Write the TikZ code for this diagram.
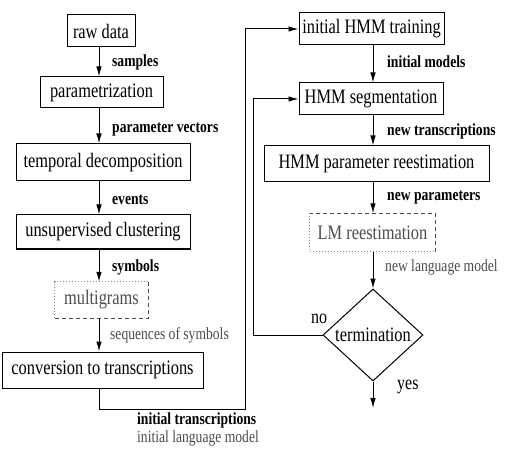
\documentclass[tikz,border=0pt]{standalone}
\usepackage{fontspec}
\setmainfont{Liberation Serif}[FakeStretch=0.8]
\usetikzlibrary{shapes.geometric,arrows.meta}
\definecolor{graytxt}{gray}{0.3}
\begin{document}
\begin{tikzpicture}[x=1pt,y=-1pt,
  box/.style={draw, line width=1pt, inner sep=0pt, font=\fontsize{20.5}{24}\selectfont},
  dbox/.style={inner sep=0pt, text=graytxt, font=\fontsize{20.5}{24}\selectfont},
  lightside/.style={draw=black!45, line width=0.8pt, dash pattern=on 1pt off 2pt},
  darkside/.style={draw=black!70, line width=0.9pt, dash pattern=on 4pt off 3pt},
  lbl/.style={anchor=west, inner sep=0pt, font=\fontsize{17}{20}\selectfont\bfseries},
  glbl/.style={anchor=west, inner sep=0pt, text=graytxt, font=\fontsize{17}{20}\selectfont},
  plbl/.style={anchor=west, inner sep=0pt, font=\fontsize{20}{24}\selectfont},
  arr/.style={line width=1pt, -{Latex[length=10pt,width=5.5pt]}},
  ln/.style={line width=1pt},
]
\useasboundingbox (0,0) rectangle (506,457);
% left column
\node[box, minimum width=68pt, minimum height=32pt] (raw) at (101,31) {raw data};
\node[box, minimum width=123pt, minimum height=31pt] (par) at (101.5,92.5) {parametrization};
\node[box, minimum width=174pt, minimum height=37pt] (tem) at (103,162.5) {temporal decomposition};
\node[box, minimum width=174pt, minimum height=34pt] (uns) at (103,232) {unsupervised clustering};
\node[dbox, minimum width=93pt, minimum height=36pt] (mul) at (101.5,300) {multigrams};
\draw[lightside] (mul.south west) -- (mul.north west) -- (mul.north east);
\draw[darkside] (mul.north east) -- (mul.south east) -- (mul.south west);
\node[box, minimum width=201pt, minimum height=36pt] (con) at (102.5,370) {conversion to transcriptions};
% right column
\node[box, minimum width=145pt, minimum height=32pt] (ini) at (371.5,29) {initial HMM training};
\node[box, minimum width=144pt, minimum height=32pt] (seg) at (371,99) {HMM segmentation};
\node[box, minimum width=225pt, minimum height=36pt] (ree) at (376.5,164) {HMM parameter reestimation};
\node[dbox, minimum width=125pt, minimum height=38pt] (lm) at (372.5,232.5) {LM reestimation};
\draw[darkside] (lm.south east) -- (lm.north east) -- (lm.north west);
\draw[lightside] (lm.north west) -- (lm.south west) -- (lm.south east);
\node[diamond, draw, line width=1pt, inner sep=0pt, aspect=1.09, minimum width=100pt, minimum height=92pt, font=\fontsize{20.5}{24}\selectfont] (ter) at (373,335) {termination};
% coordinates
\coordinate (c1) at (99,409);
\coordinate (c2) at (245,409);
\coordinate (c3) at (245,29);
\coordinate (d1) at (253,335);
\coordinate (d2) at (253,99);
\coordinate (e1) at (373,408);
% left arrows
\draw[arr] (99,0 |- raw.south) -- (99,0 |- par.north);
\draw[arr] (99,0 |- par.south) -- (99,0 |- tem.north);
\draw[arr] (99,0 |- tem.south) -- (99,0 |- uns.north);
\draw[arr] (99,0 |- uns.south) -- (99,0 |- mul.north);
\draw[arr] (99,0 |- mul.south) -- (99,0 |- con.north);
\draw[arr] (99,0 |- con.south) -- (c1) -- (c2) -- (c3) -- (ini.west |- c3);
% right arrows
\draw[arr] (373,0 |- ini.south) -- (373,0 |- seg.north);
\draw[arr] (373,0 |- seg.south) -- (373,0 |- ree.north);
\draw[arr] (373,0 |- ree.south) -- (373,0 |- lm.north);
\draw[arr] (373,0 |- lm.south) -- (ter.north);
\draw[arr] (ter.west) -- (d1) -- (d2) -- (seg.west |- d2);
\draw[arr] (ter.south) -- (e1);
% labels
\node[lbl] (l1) at (112,62) {samples};
\node[lbl] (l2) at (112,130) {parameter vectors};
\node[lbl] (l3) at (112,200) {events};
\node[lbl] (l4) at (112,267) {symbols};
\node[glbl] (l5) at (110,335) {sequences of symbols};
\node[lbl] (l6) at (137,420) {initial transcriptions};
\node[glbl] (l7) at (137,438) {initial language model};
\node[lbl] (r1) at (387,62) {initial models};
\node[lbl] (r2) at (387,131) {new transcriptions};
\node[lbl] (r3) at (387,198) {new parameters};
\node[glbl] (r4) at (385,267) {new language model};
\node[plbl] (no) at (311,319) {no};
\node[plbl] (yes) at (397,387) {yes};
\end{tikzpicture}
\end{document}
